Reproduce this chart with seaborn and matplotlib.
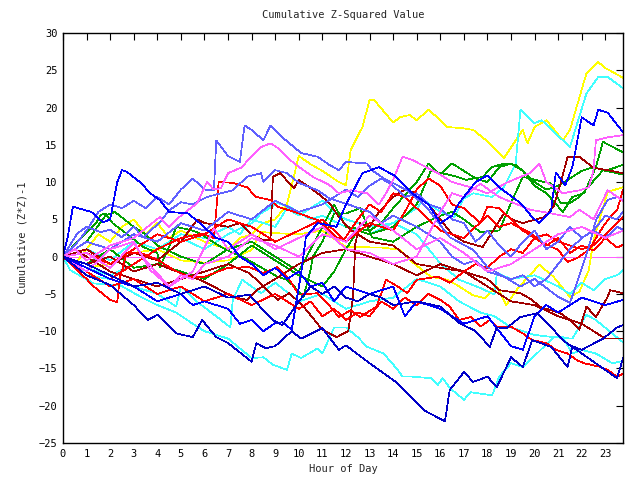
import matplotlib
matplotlib.use("Agg")
import matplotlib.pyplot as plt
import seaborn as sns
import pandas as pd

# ---- data: (hour, cumulative value) vertices ----
y1_h = [0,0.5,1,1.5,2,2.5,3,3.5,4,4.5,5,6,7,7.5,8,8.5,9,9.5,10,10.5,11,11.7,12,12.2,12.7,13,13.2,14,14.3,14.7,15,15.5,15.9,16.3,17,17.4,18.1,18.7,19.5,19.7,20,20.5,21.2,21.5,22.2,22.7,23,23.75]
y1_v = [0,-1,1,3,2,4,5,3,4.5,2.5,3.5,2,1,2.5,3,4.5,5,7,13.5,12.4,11.5,10,9.6,14.3,17.4,21,21,18,18.7,19,18.3,19.7,18.6,17.4,17.2,17,15.2,13.2,17,15.2,17.4,18.3,15.6,17,24.6,26.1,25.3,24]

y2_h = [0,1,2,3,4,5,6,7,8,8.4,9.3,10,11,12,12.3,13.6,14.3,14.8,15.6,16.3,16.7,17.4,17.9,18.4,18.8,19.3,20.2,20.8,21.5,21.9,22.3,22.5,23.1,23.75]
y2_v = [0,-1.5,-1,0.5,1,-0.5,-0.8,-0.5,0.9,3.3,3.1,3,3.5,1.3,1.3,1.2,0.9,-0.7,-2.7,-3.1,-3.8,-5.2,-5.6,-4,-6.5,-4.2,-1.1,-2.7,-5.4,-4.7,-1.8,2.2,8.7,9.3]

c1_h = [0,1,2,3,4,5,6,7,8,8.4,9.1,9.6,10.5,11,12,13,14,15,15.3,16,16.6,17,17.4,18.2,18.7,19.2,19.4,20,20.3,21.5,22.2,22.7,23.1,23.75]
c1_v = [0,-1.5,-2.5,-1,1,2.5,1,3,4.5,5.8,7.2,6.7,5,5.5,4,3,4.5,6.5,7.6,6,5.3,7.8,8.5,8,9.3,12.5,19.7,17.9,18.3,14.7,21.9,24.1,24.1,22.6]

c2_h = [0,0.3,1.3,2.4,3.3,4,4.8,5.5,6,7,8,8.5,8.9,9.5,9.7,10.1,10.8,11,11.5,12,12.5,12.9,13.6,14.2,14.4,14.8,15.6,15.9,16.1,16.4,17,17.3,18.2,18.5,19,19.5,20.1,20.8,21.2,21.6,22,22.6,23.3,23.75]
c2_v = [0,-1.8,-3.6,-3.8,-5.4,-6.5,-7.5,-9,-10,-11,-13.6,-13.5,-14.5,-15.2,-13,-13.6,-12.3,-13,-9.5,-9.5,-10.8,-12.1,-13,-15.2,-16.1,-16.1,-16.3,-17.2,-16.3,-17.6,-19.2,-18.2,-18.6,-16.1,-14.3,-14.8,-13,-10.8,-10.8,-13,-12.5,-13,-14.3,-14]

c3_h = [0,0.5,1,2,3,4,4.8,5,5.7,6.5,7.1,7.2,7.6,8.4,9,10,11,12,13,14,15,16,16.8,17.7,18.3,19,20,20.8,21.6,22.2,22.6,23.1,23.75]
c3_v = [0,-1,-2.5,-3,-4,-5,-6.7,-4,-6.1,-8,-9.5,-5.8,-3.1,-4.9,-3.5,-6,-5,-7,-6,-5.5,-3,-4,-6,-7.5,-8,-9.5,-10.5,-10.8,-11,-7.8,-8.5,-9.8,-11.5]

c4_h = [0,1,2,3,4,5,6,7,7.5,8,9,9.5,10,11,11.5,12,13,14,15,16,16.8,17.7,18.3,18.4,19,20,21,21.5,22,22.5,23,23.5,23.75]
c4_v = [0,1,-0.5,2,1,3,2.5,4,3,5,4,6.5,5.5,7.5,6,5,4,4.5,3,-0.9,-3.1,-4.2,-5.1,-2.2,-3,-2.5,-4,-5,-3.5,-4.5,-3,-2.5,-1.8]

g1_h = [0,1,1.8,2.2,3,3.5,4,5,6,7,8,9,10,10.5,11,11.5,12,13,13.5,14,15,15.5,16,16.5,17,17.5,18,18.5,19,19.5,20,20.5,21.2,21.6,22.1,22.6,22.9,23.75]
g1_v = [0,2,5.5,6,4,3,1.5,0,-1,1,2,0,-2,1,4,7,4,3.5,4.5,6.5,10,12.5,11,12.5,11.5,10.5,10,12,12.5,11.5,9.5,8.5,6,8,8.5,12,15.4,14]

g2_h = [0,1,2,3,4,5,6,7,8,9,10,11,11.5,12,12.5,13,14,15,15.6,16.5,17.1,17.8,18.2,18.7,19.2,19.5,20,20.5,21,21.5,22,22.5,23,23.75]
g2_v = [0,-1,1,-1.5,-1,-2,-3,-1,1.5,-0.5,-2.5,-4,-2,1,3.5,3,4,7,11.5,10.9,10.3,10.7,12,12.5,12.3,11.5,10,9,9.5,10.5,11.5,12,11.5,12.3]

g3_h = [0,1.4,1.6,1.8,2.1,2.6,2.9,3.4,4,4.1,4.5,4.8,5.5,5.8,6.7,7.2,7.6,8.1,8.6,9.1,9.5,9.8,10.2,10.5,10.6,11,11.5,12,12.6,13.1,14,15,16,16.5,17,17.7,18.5,19,19.3,19.5,20.7,21.1,21.5,21.9,22.9,23.75]
g3_v = [0,4.5,5.6,5.8,4.5,3.3,2.6,1.3,0.5,-1.4,1.3,4,3.5,3.1,1.3,0.5,0,-0.9,-1.8,-2.7,-3.1,-4,-5.4,-1.8,0,2,5.8,5.8,6.5,2.6,2,4,5.5,6,5,3.3,3.5,7.2,9.3,10.7,9.8,7.2,7.2,8,11.6,11]

dra_h = [0,1,2,3,4,5,5.7,6,7,7.5,8,8.5,8.8,8.9,9.2,9.8,10,10.8,11.3,11.7,12.2,13,14,15,16,17,18,19,20,21,22,23,23.75]
dra_v = [0,1,-1,0.5,-0.5,2,5,4.5,4,4.5,3,2.2,2.2,10.7,11.2,9.2,10.3,8.5,7.2,5.3,3.6,2,1.5,-1,-1.5,-2,-4,-6,-6.5,-8,-9,-11,-11]

drb_h = [0,0.5,1,2,3,4,5,6,7,7.9,8.5,9.1,9.6,10.2,11,11.6,12.1,12.3,12.4,12.6,13,13.4,14,14.5,15,15.5,16,16.5,17,17.8,18.7,19.1,19.5,20.4,20.8,21.1,21.4,21.9,22.5,23.1,23.75]
drb_v = [0,1,0,-2,-3,-4,-3,-2,-1,-2.2,-4,-5.8,-4.9,-6.7,-9.8,-10.8,-10,-5.4,1.8,4.5,4,6,8,9,8.5,7,5,3,2,1.3,5.8,4.9,4.5,5.3,6.7,9.8,13.4,13.4,11.9,11.6,11.2]

drc_h = [0,1,2,3,4,5,5.8,6.5,7.2,7.8,8.2,9,10,11,12,13,14,15,16,17,18,18.5,19.4,19.9,20.2,21.1,21.5,21.9,22.2,22.6,23.1,23.2,23.75]
drc_v = [0,-1,0,-2,-1,-2.2,-3.1,-4.2,-5.4,-5.8,-4.5,-3,-1,0.5,1,0,-1,-2.5,-1,-2,-3,-4.5,-4.9,-5.8,-6.7,-7.6,-8.5,-9.8,-6.7,-8.1,-5.4,-4.5,-4.9]

r1_h = [0,1,2,3,4,5,5.9,6.4,6.6,7.2,7.8,8.2,8.8,9.1,10,10.8,11.2,11.6,11.9,12.5,13,13.5,14,14.5,15,15.5,16,17,18,18.5,19,19.8,20.4,21,21.4,21.8,22.3,22.9,23.2,23.5,23.75]
r1_v = [0,-1.5,-3,-1,1,2.5,3.1,2.5,10,9.9,9.3,8,7.6,6.7,5.8,4.9,3.8,2.6,2.2,5,7,6,8.5,8,6.5,5,3.5,2.5,5.5,4,4.5,3.2,1.8,0.9,-0.7,-0.2,0.9,4,5.3,6.2,9]

r2_h = [0,0.5,1,1.3,2,2.3,2.4,2.7,3.3,4,4.7,5.3,6,7,7.9,8.5,9.1,9.6,10,10.8,11.2,11.7,12.2,12.6,13.3,13.7,14.2,14.6,15,15.9,16.4,17,17.5,18,18.5,19,19.5,20,20.5,21,21.5,22,22.5,23,23.5,23.75]
r2_v = [0,-1.5,-3,-4,-5.8,-6.1,-3.1,0.5,0.5,-0.4,-1.8,-2.7,-2.7,-1.5,-1.4,-2.2,-1.4,-3.1,-5.1,-4.9,-6.2,-8.1,-7.2,-8.1,-6.7,-3.1,-4,-4.9,-3.1,-2.7,-3.5,-2,-1,-1.5,0,1,0.5,2.5,1.5,2.5,0.5,1.5,0.8,2.5,1.2,1.6]

r3_h = [0,1,2,3,4,5,6,7,8,9,10,10.5,11,11.5,12,12.5,13,13.5,14,14.5,15,15.5,16,16.4,16.8,17.3,17.7,18.1,18.4,19,19.5,19.9,20.5,20.9,21.4,21.8,22.1,22.8,23.1,23.5,23.75]
r3_v = [0,-2,-4,-3,-5,-4,-6,-5,-6.5,-5,-7,-6,-8,-7,-8.5,-7.5,-8,-6,-7,-5.5,-6.5,-5,-5.8,-6.7,-8.5,-8.1,-9.4,-8.5,-9.4,-9.4,-10.3,-11.2,-11.6,-12.5,-13,-13.9,-14.3,-14.8,-15.2,-16.1,-15.7]

r4_h = [0,1,2,3,4,5,6,7,8,9,10,11,12,13,14,14.5,15,15.5,16,16.5,17,17.7,18,18.5,19,19.5,20,20.5,21,21.5,22,22.5,23,23.5,23.75]
r4_v = [0,0.5,-1,1,3,2,3,5,4,2,3.5,5,2,4.5,3.5,6,9,10.5,9.5,7,6.5,4.5,6.7,6.5,5,3.5,2.5,3,2,1.5,1,1.5,3,4.5,5.3]

bup_h = [0,0.2,0.42,1.2,1.7,2,2.3,2.5,2.7,3.3,3.7,4.1,4.5,5.3,5.8,6.5,7,7.5,8,8.5,9,9.5,10,10.5,11,11.5,12,13,14,14.5,15,16,17,18,19,19.5,20,20.5,21,22,23,23.75]
bup_v = [0,2.6,6.7,6,4.6,5,10,11.6,11.4,9.9,8.5,7.6,6,5.8,4.5,2.5,2,0,-1,-2.5,-1.5,-3,-2,-4,-3.5,-6,-4,-5,-4,-8,-6,-7,-9,-8,-12,-12.5,-8,-6.5,-7.5,-5.5,-6.5,-5.8]

btop_h = [0,1,2,3,4,5,5.5,6,7,7.5,8,8.5,9,9.3,9.7,10.1,10.3,10.8,11.6,12,12.7,13.4,14.1,14.8,15.5,16,16.5,16.8,17.5,18,18.5,19.4,19.9,20.2,20.7,20.9,21.3,21.6,22,22.5,22.7,23.1,23.75]
btop_v = [0,-1.5,-3,-4,-6,-5,-6.5,-6,-7,-9,-8.5,-10,-8.9,-8.8,-9.8,-2.2,2.6,4.5,4,7,11.2,12,10.8,8.5,7,4.5,5.5,7.2,10,10.9,9.3,7.2,5.3,4.5,6.2,11.3,9.6,12,18.7,17.6,19.7,19.3,16.7]

b1_h = [0,1,2,3,3.6,4,4.8,5.5,5.9,6.5,7,8,8.2,8.6,9,9.7,10.1,11,11.7,12,13,14.2,15.3,16.2,16.4,17,17.4,18,18.4,19,19.5,19.9,20.7,21.4,21.6,22.5,23.5,23.75]
b1_v = [0,-2.5,-3.8,-6.5,-8.5,-7.8,-10.3,-10.8,-8.5,-10.8,-11.6,-14.1,-11.6,-12.3,-12,-10,-11,-9.6,-12.5,-11.9,-14.3,-17,-20.6,-22.1,-17.9,-15.5,-16.8,-16.1,-17.5,-13.5,-14.8,-11.2,-12.1,-14.8,-12.1,-14.1,-16.3,-13.6]

bmid_h = [0,1,2,3,4,5,6,7,7.9,8.5,8.9,9.3,10,10.5,11,11.5,12,12.5,13,13.5,14,15,16,16.8,17.5,18.1,18.4,18.8,19.4,20.1,20.8,21.2,21.5,22,22.9,23.5,23.75]
bmid_v = [0,-1,-2.5,-4,-3.5,-5,-4,-5.5,-5.1,-7.2,-8.5,-9.2,-6,-4,-5,-4,-5.5,-6,-5,-5.5,-6.5,-6,-6.7,-8.9,-10,-12.1,-9.5,-9.6,-8.1,-7.6,-9.8,-11.2,-11.9,-12.5,-11,-9.5,-9.2]

p1_h = [0,0.5,1,1.5,2,2.5,3,3.5,4,4.5,5,5.5,6,6.4,6.5,7,7.5,7.7,8,8.5,8.8,9.3,10.1,10.8,11.3,11.7,12,12.9,13.1,13.6,14.6,15.4,16.4,17.4,18,19.4,20,21,21.5,21.8,22.3,22.6,23.1,23.5,23.75]
p1_v = [0,1.5,3.5,6,7,6.5,7.5,6.5,8,7,9,10.5,9,8.9,15.6,13.5,12.7,17.6,17,15.6,17.6,16,13.9,13.4,12.3,11.6,12.7,12.5,11.6,10.5,8.9,6.7,2.6,0.9,-1.4,-4,-3,-5.4,-6.2,-3.5,1.3,4.9,7.6,8,7.5]

p2_h = [0,0.6,1,1.6,2,2.5,3,3.4,4.1,4.5,5,5.5,6.1,6.7,7.2,7.8,8.4,8.5,9,9.5,10,10.8,11.3,11.9,12.2,13,13.5,14,15,16,16.5,17,17.5,18,19,19.5,20,20.5,21,21.5,22,22.5,23,23.5,23.75]
p2_v = [0,3.1,4,3.3,3.6,2.6,4,2.6,4.6,6.2,7.3,7,8,8.5,8.9,10.7,11.2,10,11.6,11.2,9.9,8.9,7.8,7.2,6.9,6,4.5,5.5,4,2,0,-1,-0.5,-2,-3,-2.5,-4,-3,-1,1,2.5,3.5,2.5,4,3.6]

p3_h = [0,1,2,3,4,5,6,7,8,9,10,11,12,12.5,13,13.5,14,14.5,15,15.5,16,16.5,17,17.5,18,18.5,19,19.5,20,20.5,21,21.5,22,22.5,23,23.5,23.75]
p3_v = [0,2,1,3,2,4.5,3.5,6,5,7.5,6,7,9,8,9.5,10.5,9.5,8,8.5,7,6.5,5,4.5,2,3.5,1.5,0,2,3.5,1,2,4,2.5,3.5,5.5,5,6]

m2_h = [0,0.5,1,2,3,4.1,4.5,5,5.7,6.1,6.4,6.7,7,7.6,7.9,8.4,8.8,9.1,9.8,10.6,11.3,11.7,12.2,12.9,13.4,13.7,14,14.4,14.8,15.4,15.9,16.5,17.3,18,18.8,19.4,19.8,20.2,20.5,21.2,21.9,22.3,22.5,22.6,23.1,23.75]
m2_v = [0,1,-0.5,1.5,2.5,5.3,4,5.5,7.2,10,9,9.2,11.2,12,13.2,14.7,15.2,14.6,12.5,10.7,9.6,8.5,8.9,8.5,7,8.5,10.3,13.4,13,12,11.2,10,9.3,8.5,9.9,10.7,11.2,12.5,10,8.5,8.9,9.3,11.6,15.6,16,16.3]

m3_h = [0,1,2,3,3.7,4.5,5.5,6.4,7,8,9,10,11,12,13,14,15,15.5,16,16.5,17,17.7,18.5,19.8,20.7,21.5,21.9,22.5,23.1,23.75]
m3_v = [0,-2,1,2,-1.8,-4,-2,3.8,1,3,1,2.5,4,1,0.5,-1,0,3,6,8.5,8,9.8,8,6.3,5.8,5.3,6.3,5,8.9,7.5]

m4_h = [0,1,2,3,3.5,4.5,5,5.5,6,7,8,9,10,11,12,13,14,15,16,17,18,19,20,21,22,23,23.75]
m4_v = [0,0.5,-1.5,1.8,-0.5,-4,-2.5,-3,-1,0,2.5,1.5,0,3,2,5.5,3.5,1,2.5,0.5,-2,-1,1,3,4,2.5,3.5]

series = {
    "y1": (y1_h, y1_v, "#ffff00"), "y2": (y2_h, y2_v, "#ffff00"),
    "c1": (c1_h, c1_v, "#40ffff"), "c2": (c2_h, c2_v, "#40ffff"),
    "c3": (c3_h, c3_v, "#40ffff"), "c4": (c4_h, c4_v, "#40ffff"),
    "g1": (g1_h, g1_v, "#00a000"), "g2": (g2_h, g2_v, "#00a000"),
    "g3": (g3_h, g3_v, "#00a000"),
    "dra": (dra_h, dra_v, "#a00000"), "drb": (drb_h, drb_v, "#a00000"),
    "drc": (drc_h, drc_v, "#a00000"),
    "r1": (r1_h, r1_v, "#ff0000"), "r2": (r2_h, r2_v, "#ff0000"),
    "r3": (r3_h, r3_v, "#ff0000"), "r4": (r4_h, r4_v, "#ff0000"),
    "p1": (p1_h, p1_v, "#6060ff"), "p2": (p2_h, p2_v, "#6060ff"),
    "p3": (p3_h, p3_v, "#6060ff"),
    "m2": (m2_h, m2_v, "#ff60ff"), "m3": (m3_h, m3_v, "#ff60ff"),
    "m4": (m4_h, m4_v, "#ff60ff"),
    "bup": (bup_h, bup_v, "#0000ff"), "btop": (btop_h, btop_v, "#0000ff"),
    "bmid": (bmid_h, bmid_v, "#0000c8"), "b1": (b1_h, b1_v, "#0000c8"),
}

rows = []
for name, (hs, vs, col) in series.items():
    for h, v in zip(hs, vs):
        rows.append({"hour": h, "value": v, "series": name})
df = pd.DataFrame(rows)
palette = {k: c for k, (_, _, c) in series.items()}

sns.set_style("white")
plt.rcParams["font.family"] = ["DejaVu Sans Mono"]

fig = plt.figure(figsize=(6.4, 4.8), dpi=100)
ax = fig.add_axes([63/640, 37/480, 560/640, 410/480])

ax.axhline(0, color="#ff60ff", lw=0.5, zorder=1, antialiased=False)
sns.lineplot(data=df, x="hour", y="value", hue="series", palette=palette,
             estimator=None, sort=False, legend=False, lw=0.5, ax=ax,
             antialiased=False)

ax.set_xlim(0, 23.75)
ax.set_ylim(-25, 30)
ax.set_xticks(range(0, 24))
ax.set_yticks(range(-25, 31, 5))
ax.tick_params(direction="in", length=5, width=0.8, top=True, right=True,
               labelsize=7.5, colors="black", pad=4)
for s in ax.spines.values():
    s.set_color("black")
    s.set_linewidth(1)

ax.set_title("Cumulative Z-Squared Value", fontsize=7.5, pad=11)
ax.set_xlabel("Hour of Day", fontsize=7.5, labelpad=4)
ax.set_ylabel("Cumulative (Z*Z)-1", fontsize=7.5, labelpad=8)

fig.savefig("out.png", dpi=100)
